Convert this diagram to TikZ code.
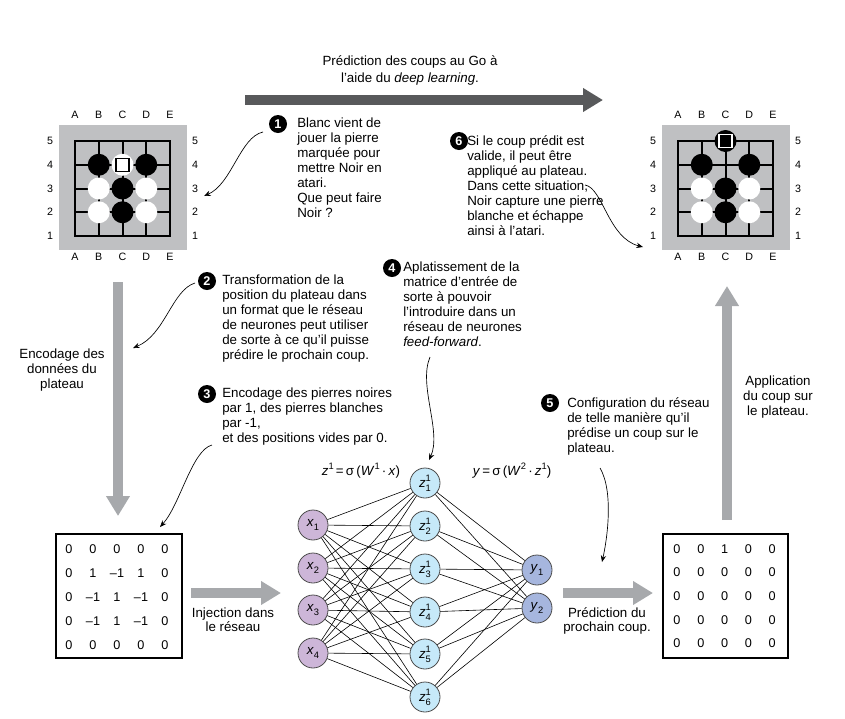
\documentclass[tikz,border=0pt]{standalone}
\usepackage{fontspec}
\setmainfont{Liberation Sans}
\usetikzlibrary{arrows.meta}
\definecolor{boardgray}{HTML}{BFC0C2}
\definecolor{arrowgray}{HTML}{A7A9AC}
\definecolor{darkarrow}{HTML}{58595B}
\definecolor{xcol}{HTML}{CDB6D8}
\definecolor{zcol}{HTML}{C6E9F9}
\definecolor{ycol}{HTML}{A6B6DE}
\newcommand\mysup[1]{\raisebox{0.85ex}{\fontsize{7}{7}\selectfont #1}}
\newcommand\mysub[1]{\raisebox{-0.55ex}{\fontsize{7}{7}\selectfont #1}}
\newcommand\zlab[1]{\textit{z}\makebox[0pt][l]{\mysup{1}}\mysub{#1}}
\newcommand\goboard[1]{%
  \fill[boardgray] (59,125) rectangle (187,250);
  \foreach \i in {0,...,4}{
    \draw[gridline] (75+23.75*\i,141) -- (75+23.75*\i,236);
    \draw[gridline] (75,141+23.75*\i) -- (170,141+23.75*\i);
  }
  \foreach \l [count=\k from 0] in {A,B,C,D,E}{
    \node[lbl] (#1top\l) at (75+23.75*\k,115) {\l};
    \node[lbl] (#1bot\l) at (75+23.75*\k,257) {\l};
  }
  \foreach \r [count=\k from 0] in {5,4,3,2,1}{
    \node[lbl] (#1left\r) at (50,141+23.75*\k) {\r};
    \node[lbl] (#1right\r) at (195,141+23.75*\k) {\r};
  }
}
\newcommand\stone[3]{\fill[#3] (75+23.75*#1,141+23.75*#2) circle[radius=11];}
\begin{document}
\begin{tikzpicture}[x=0.75pt,y=-0.75pt,
  gridline/.style={line width=1.5pt,line cap=rect},
  lbl/.style={font=\fontsize{8}{8}\selectfont,inner sep=0},
  txt/.style={font=\fontsize{10}{11.25}\selectfont,align=left,inner sep=0,anchor=north west},
  ctxt/.style={font=\fontsize{10}{11.25}\selectfont,align=center,inner sep=0,anchor=north},
  num/.style={circle,fill=black,text=white,inner sep=0,minimum size=13.5pt,font=\fontsize{9.5}{9.5}\selectfont\bfseries},
  bigarrow/.style={draw=arrowgray,line width=7.5pt,-{Triangle[length=15pt,width=17pt]}},
  callout/.style={line width=0.5pt,-{Stealth[length=5pt,width=4pt]}},
  neuron/.style={circle,draw=black!70,line width=0.6pt,minimum size=22.5pt,inner sep=0,font=\fontsize{10}{10}\selectfont},
  edge/.style={line width=0.45pt},
  matnum/.style={font=\fontsize{9.5}{9.5}\selectfont,inner sep=0},
  matbox/.style={draw=black,line width=0.8pt,inner sep=0}]
\useasboundingbox (0,0) rectangle (845,718);

% ---------- boards ----------
\begin{scope}
  \goboard{L}
  \stone{1}{1}{black}
  \stone{2}{1}{white}
  \stone{3}{1}{black}
  \stone{1}{2}{white}
  \stone{2}{2}{black}
  \stone{3}{2}{white}
  \stone{1}{3}{white}
  \stone{2}{3}{black}
  \stone{3}{3}{white}
  \draw[line width=0.9pt] (122.5-6.5,164.75-6.5) rectangle (122.5+6.5,164.75+6.5);
\end{scope}
\begin{scope}[shift={(603,0)}]
  \goboard{R}
  \stone{2}{0}{black}
  \stone{1}{1}{black}
  \stone{3}{1}{black}
  \stone{1}{2}{white}
  \stone{2}{2}{black}
  \stone{3}{2}{white}
  \stone{1}{3}{white}
  \stone{2}{3}{black}
  \stone{3}{3}{white}
  \draw[white,line width=1.1pt] (122.5-6.5,141-6.5) rectangle (122.5+6.5,141+6.5);
\end{scope}

% ---------- title arrow ----------
\node[ctxt] (title) at (410,55) {Prédiction des coups au Go à\\[2pt]l'aide du \textit{deep learning}.};
\coordinate (tA) at (245,100);
\coordinate (tB) at (603,100);
\draw[bigarrow,draw=darkarrow] (tA) -- (tB);

% ---------- matrices ----------
\node[matbox,minimum width=94.5pt,minimum height=93pt] (matL) at (119,596) {};
\node[matbox,minimum width=93.75pt,minimum height=93pt] (matR) at (725.5,596) {};
\foreach \row [count=\r from 0] in {{0,0,0,0,0},{0,1,–1,1,0},{0,–1,1,–1,0},{0,–1,1,–1,0},{0,0,0,0,0}}{
  \foreach \v [count=\c from 0] in \row{
    \node[matnum] (mL\r\c) at (69+24*\c,549+24*\r) {\v};
  }
}
\foreach \row [count=\r from 0] in {{0,0,1,0,0},{0,0,0,0,0},{0,0,0,0,0},{0,0,0,0,0},{0,0,0,0,0}}{
  \foreach \v [count=\c from 0] in \row{
    \node[matnum] (mR\r\c) at (677+23.8*\c,549+23.6*\r) {\v};
  }
}

% ---------- big grey arrows ----------
\coordinate (eA) at (118,282);
\coordinate (eB) at (118,516);
\draw[bigarrow] (eA) -- (eB);
\coordinate (aA) at (727,520);
\coordinate (aB) at (727,286);
\draw[bigarrow] (aA) -- (aB);
\coordinate (iA) at (191,593);
\coordinate (iB) at (281,593);
\draw[bigarrow] (iA) -- (iB);
\coordinate (pA) at (563,593);
\coordinate (pB) at (653,593);
\draw[bigarrow] (pA) -- (pB);

\node[ctxt] (enc) at (62,349) {Encodage des\\données du\\plateau};
\node[ctxt] (app) at (778,376) {Application\\du coup sur\\le plateau.};
\node[ctxt,font=\fontsize{10}{10.5}\selectfont] (inj) at (233,608) {Injection dans\\le réseau};
\node[ctxt,font=\fontsize{10}{10.5}\selectfont] (pred) at (607,607) {Prédiction du\\prochain coup.};

% ---------- neural network ----------
\foreach \i/\yy in {1/525,2/568,3/610,4/653}{
  \node[neuron,fill=xcol] (x\i) at (313,\yy) {\textit{x}\mysub{\i}};
}
\foreach \j/\yy in {1/483,2/526,3/569,4/612,5/654,6/697}{
  \node[neuron,fill=zcol] (z\j) at (425,\yy) {\zlab{\j}};
}
\node[neuron,fill=ycol] (y1) at (537,570) {\textit{y}\mysub{1}};
\node[neuron,fill=ycol] (y2) at (537,608) {\textit{y}\mysub{2}};
\foreach \i in {1,...,4}{\foreach \j in {1,...,6}{\draw[edge] (x\i) -- (z\j);}}
\foreach \j in {1,...,6}{\foreach \k in {1,2}{\draw[edge] (z\j) -- (y\k);}}

\node[inner sep=0,font=\fontsize{10}{10}\selectfont] (f1) at (361,471) {\textit{z}\mysup{1}\,=\,σ\,(\textit{W}\mysup{1}\,·\,\textit{x})};
\node[inner sep=0,font=\fontsize{10}{10}\selectfont] (f2) at (512,471) {\textit{y}\,=\,σ\,(\textit{W}\mysup{2}\,·\,\textit{z}\mysup{1})};

% ---------- callouts ----------
\node[num] (n1) at (278,124) {1};
\node[txt] (t1) at (297,118) {Blanc vient de\\jouer la pierre\\marquée pour\\mettre Noir en\\atari.\\Que peut faire\\Noir ?};
\node[num] (n2) at (207,281) {2};
\node[txt] (t2) at (222,275) {Transformation de la\\position du plateau dans\\un format que le réseau\\de neurones peut utiliser\\de sorte à ce qu'il puisse\\prédire le prochain coup.};
\node[num] (n3) at (207,394) {3};
\node[txt] (t3) at (222,388) {Encodage des pierres noires\\par 1, des pierres blanches\\par -1,\\et des positions vides par 0.};
\node[num] (n4) at (392,268) {4};
\node[txt] (t4) at (403,262) {Aplatissement de la\\matrice d'entrée de\\sorte à pouvoir\\l'introduire dans un\\réseau de neurones\\\textit{feed-forward}.};
\node[num] (n5) at (550,403) {5};
\node[txt] (t5) at (567,397) {Configuration du réseau\\de telle manière qu'il\\prédise un coup sur le\\plateau.};
\node[num] (n6) at (459,141) {6};
\node[txt] (t6) at (467,135) {Si le coup prédit est\\valide, il peut être\\appliqué au plateau.\\Dans cette situation,\\Noir capture une pierre\\blanche et échappe\\ainsi à l'atari.};

\coordinate (c1a) at (263,132);
\coordinate (c1b) at (204,196);
\draw[callout] (c1a) .. controls (240,137) and (232,184) .. (c1b);
\coordinate (c2a) at (195,283);
\coordinate (c2b) at (133,348);
\draw[callout] (c2a) .. controls (172,290) and (165,335) .. (c2b);
\coordinate (c3a) at (212,445);
\coordinate (c3b) at (160,527);
\draw[callout] (c3a) .. controls (192,450) and (180,505) .. (c3b);
\coordinate (c4a) at (430,357);
\coordinate (c4b) at (429,460);
\draw[callout] (c4a) .. controls (418,385) and (442,432) .. (c4b);
\coordinate (c5a) at (600,468);
\coordinate (c5b) at (602,562);
\draw[callout] (c5a) .. controls (614,492) and (607,540) .. (c5b);
\coordinate (c6a) at (585,185);
\coordinate (c6b) at (643,247);
\draw[callout] (c6a) .. controls (603,188) and (608,238) .. (c6b);
\end{tikzpicture}
\end{document}
